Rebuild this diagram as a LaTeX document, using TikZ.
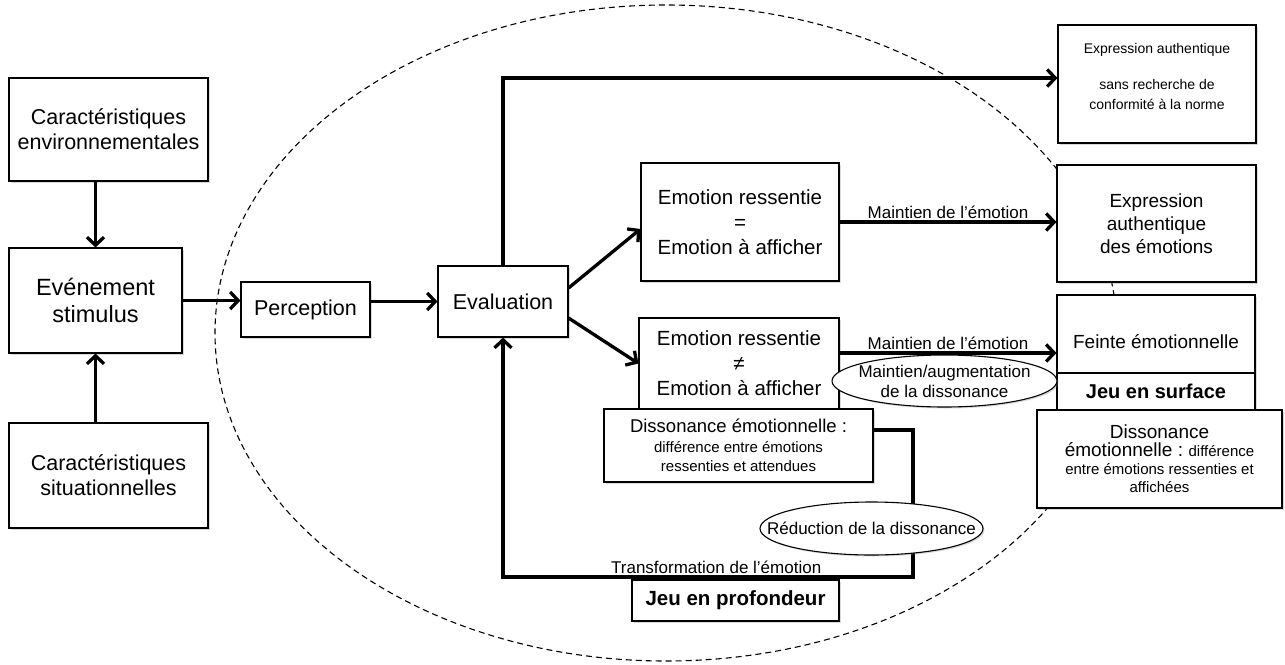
\documentclass[tikz,border=0pt]{standalone}
\usepackage{fontspec}
\setmainfont{Liberation Sans}
\usetikzlibrary{arrows.meta,shapes.geometric,shadows}

\begin{document}
\begin{tikzpicture}[
    x=1pt, y=-1pt,
    >={Straight Barb[length=8pt,width=17pt]},
    box/.style={rectangle, draw, line width=1.1pt, fill=white, align=center, inner sep=2pt,
                drop shadow={shadow xshift=1.5pt, shadow yshift=-1.5pt, opacity=.3}},
    oval/.style={ellipse, draw, line width=1.1pt, fill=white, align=center, inner ysep=0pt,
                 font=\fontsize{17}{20}\selectfont,
                 drop shadow={shadow xshift=1.5pt, shadow yshift=-1.5pt, opacity=.3}},
    link/.style={->, line width=3.3pt},
    lbl/.style={font=\fontsize{17}{20}\selectfont, inner sep=2pt},
    big/.style={font=\fontsize{21.5}{25}\selectfont},
    mid/.style={font=\fontsize{20.5}{25}\selectfont}
  ]
  \useasboundingbox (0,0) rectangle (1285,664);

  \draw[dash pattern=on 6pt off 4pt, line width=1.1pt] (666,333) ellipse [x radius=451, y radius=328];

  \node[box, big, minimum width=199pt, minimum height=103pt] (env) at (108.5,129.5) {Caractéristiques\\environnementales};
  \node[box, font=\fontsize{23.5}{27}\selectfont, minimum width=173pt, minimum height=105pt] (stim) at (95.5,300.5) {Evénement\\stimulus};
  \node[box, big, minimum width=199pt, minimum height=105pt] (sit) at (108.5,475.5) {Caractéristiques\\situationnelles};
  \node[box, big, minimum width=129pt, minimum height=55pt] (perc) at (305.5,309.5) {Perception};
  \node[box, big, minimum width=130pt, minimum height=71pt] (eval) at (503,301.5) {Evaluation};

  \node[box, mid, minimum width=198pt, minimum height=118pt] (same) at (740,222) {Emotion ressentie\\=\\Emotion à afficher};
  \node[box, mid, minimum width=200pt, minimum height=91pt] (diff) at (739,363.5) {Emotion ressentie\\≠\\Emotion à afficher};
  \node[box, font=\fontsize{15}{19.5}\selectfont, minimum width=269pt, minimum height=73pt] (dissA) at (738.5,445.5)
    {{\fontsize{18.5}{21}\selectfont Dissonance émotionnelle :}\\différence entre émotions\\ressenties et attendues};
  \node[box, font=\fontsize{20.5}{24}\selectfont\bfseries, minimum width=207pt, minimum height=41pt] (prof) at (735.5,600.5) {Jeu en profondeur};

  \node[box, font=\fontsize{14}{20}\selectfont, text depth=16pt, minimum width=198pt, minimum height=118pt] (authA) at (1157,84)
    {Expression authentique\\[16pt]sans recherche de\\conformité à la norme};
  \node[box, font=\fontsize{19}{23}\selectfont, minimum width=199pt, minimum height=117pt] (authB) at (1156.5,223.5) {Expression\\authentique\\des émotions};
  \node[box, font=\fontsize{19}{23}\selectfont, text height=30pt, minimum width=198pt, minimum height=78pt] (feinte) at (1156,334) {Feinte émotionnelle};
  \node[box, font=\fontsize{20}{24}\selectfont\bfseries, minimum width=198pt, minimum height=37pt] (surface) at (1156,391.5) {Jeu en surface};
  \node[box, font=\fontsize{15}{18}\selectfont, minimum width=245pt, minimum height=98pt] (dissB) at (1159.5,459)
    {{\fontsize{19}{22}\selectfont Dissonance}\\{\fontsize{19}{22}\selectfont émotionnelle :} différence\\entre émotions ressenties et\\affichées};

  \draw[link] (env.south -| stim.north) -- (stim.north);
  \draw[link] (sit.north -| stim.south) -- (stim.south);
  \draw[link] (stim.east) -- (stim.east -| perc.west);
  \draw[link] (perc.east |- eval.west) -- (eval.west);
  \draw[link] ([yshift=13.5pt]eval.east) -- ([yshift=-7pt]same.west);
  \draw[link] ([yshift=-16.5pt]eval.east) -- (diff.west);
  \draw[link] (eval.north) |- ([yshift=6pt]authA.west);
  \draw[link] (same.east) -- node[lbl, above] (keepA) {Maintien de l’émotion} (same.east -| authB.west);
  \draw[link] ([yshift=10.5pt]diff.east) -- node[lbl, above] (keepB) {Maintien de l’émotion} ([yshift=10.5pt]diff.east -| feinte.west);

  \coordinate (loop) at (913,577);
  \draw[link] ([yshift=15.5pt]dissA.east) -| (loop)
    -- node[lbl, above, pos=0.48] (transfo) {Transformation de l’émotion} (loop -| eval) -- (eval.south);

  \node[oval, inner xsep=-8pt, minimum width=225pt, minimum height=52pt] (augm) at (944.5,381) {Maintien/augmentation\\de la dissonance};
  \node[oval, inner xsep=-30pt, minimum width=223pt, minimum height=53pt] (reduc) at (871.5,528.5) {Réduction de la dissonance};
\end{tikzpicture}
\end{document}
